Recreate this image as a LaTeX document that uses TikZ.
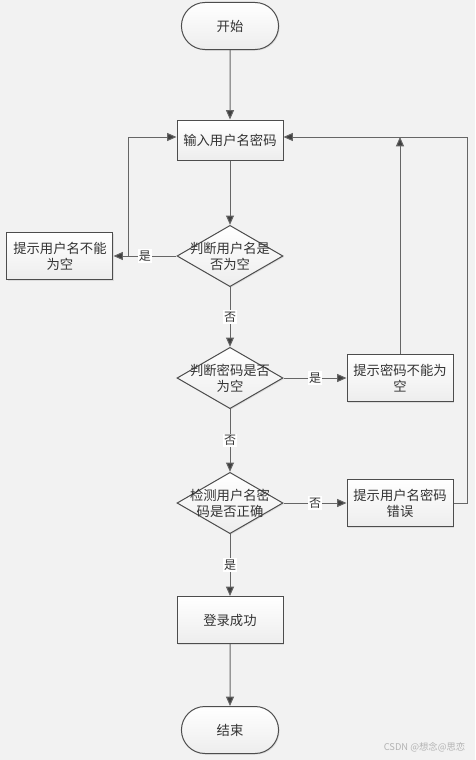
\documentclass[tikz,border=0pt]{standalone}
\usepackage{fontspec}
\newfontfamily\cjk{Noto Sans CJK SC}
\usetikzlibrary{arrows.meta,positioning,shapes.geometric,shapes.misc,shadows}
\definecolor{canvas}{HTML}{F2F2F2}
\definecolor{ink}{HTML}{333333}
\definecolor{edge}{HTML}{4D4D4D}
\definecolor{wire}{HTML}{666666}
\definecolor{tip}{HTML}{404040}
\definecolor{mark}{HTML}{B3B3B3}
\tikzset{
  boxbase/.style={draw=edge, line width=0.75pt, top color=white, bottom color=black!7, drop shadow={shadow xshift=0.8pt, shadow yshift=-0.8pt, fill=black!22}, minimum width=79.5pt, align=center, font=\cjk, text=ink},
  terminal/.style={boxbase, rounded rectangle, minimum height=35.25pt},
  process/.style={boxbase, rectangle, minimum height=#1},
  process/.default=35.25pt,
  decision/.style={boxbase, diamond, minimum width=79.5pt, minimum height=46pt, inner sep=0pt, label={[align=center, font=\cjk, text=ink]center:#1}},
  lbl/.style={fill=white, inner sep=1pt, font=\cjk\fontsize{9}{10}\selectfont, text=ink},
  arr/.style={-{Triangle[length=7pt, width=6pt, fill=tip]}, line width=0.75pt, draw=wire}
}
\begin{document}
\begin{tikzpicture}[font=\cjk, on grid]
  \path[use as bounding box, fill=canvas] (-172.5pt,19.5pt) rectangle (183.75pt,-550.5pt);

  \node[terminal] (start) {开始};
  \node[process=30pt, below=85.5pt of start] (input) {输入用户名密码};
  \node[decision={判断用户名是\\否为空}, below=87pt of input] (chkname) {};
  \node[process, left=127.5pt of chkname] (namehint) {提示用户名不能\\为空};
  \node[decision={判断密码是否\\为空}, below=91.5pt of chkname] (chkpwd) {};
  \node[process, right=127.5pt of chkpwd] (pwdhint) {提示密码不能为\\空};
  \node[decision={检测用户名密\\码是否正确}, below=93.75pt of chkpwd] (chkboth) {};
  \node[process, right=127.5pt of chkboth] (errhint) {提示用户名密码\\错误};
  \node[process, below=87.75pt of chkboth] (success) {登录成功};
  \node[terminal, below=82.5pt of success] (finish) {结束};
  % loop-back entry points, a little above the middle of the input box
  \coordinate (inwest) at ([yshift=2.25pt]input.west);
  \coordinate (ineast) at ([yshift=2.25pt]input.east);

  \draw[arr] (start) -- (input);
  \draw[arr] (input) -- (chkname);
  \draw[arr] (chkname) -- node[lbl] {是} (namehint);
  \draw[arr] (namehint.east) ++(11.25pt,0) |- (inwest);
  \draw[arr] (chkname) -- node[lbl] {否} (chkpwd);
  \draw[arr] (chkpwd) -- node[lbl] {是} (pwdhint);
  \draw[arr] (pwdhint) -- (pwdhint |- ineast);
  \draw[arr] (chkpwd) -- node[lbl] {否} (chkboth);
  \draw[arr] (chkboth) -- node[lbl] {否} (errhint);
  \draw[arr] (errhint.east) -- ++(10.5pt,0) |- (ineast);
  \draw[arr] (chkboth) -- node[lbl] {是} (success);
  \draw[arr] (success) -- (finish);

  \node[anchor=east, font=\cjk\fontsize{7}{8}\selectfont, text=mark] (credit) at (180pt,-540.75pt) {CSDN @想念@思恋};
\end{tikzpicture}
\end{document}
